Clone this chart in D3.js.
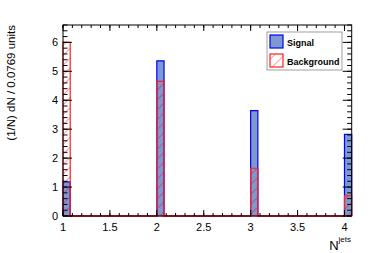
<!DOCTYPE html>
<html>
<head>
<meta charset="utf-8">
<script src="https://cdn.jsdelivr.net/npm/d3@7"></script>
<style>
  body { margin: 0; background: #fff; }
  text { font-family: "Liberation Sans", Arial, sans-serif; }
</style>
</head>
<body>
<svg width="374" height="253"></svg>
<script>
// jet multiplicity, values
let nJets = [1, 2, 3, 4]
let signal = [1.18, 5.36, 3.64, 2.82]
let background = [6.0, 4.65, 1.65, 0.70]
let binWidth = 1 / 13
let nBins = 40
let xTicks = [1, 1.5, 2, 2.5, 3, 3.5, 4]
let yTicks = [0, 1, 2, 3, 4, 5, 6]

let svg = d3.select('svg')
let margin = { top: 25, left: 63, right: 22.3, bottom: 37 }
let width = 374, height = 253
let innerWidth = width - margin.left - margin.right
let innerHeight = height - margin.top - margin.bottom

let xScale = d3.scaleLinear().domain([1, 1 + nBins * binWidth]).range([0, innerWidth])
let yScale = d3.scaleLinear().domain([0, 6.6]).range([innerHeight, 0])

// hatch pattern for background
let defs = svg.append('defs')
let pat = defs.append('pattern')
    .attr('id', 'hatch')
    .attr('patternUnits', 'userSpaceOnUse')
    .attr('width', 7).attr('height', 7)
    .attr('patternTransform', 'rotate(45)')
pat.append('line')
    .attr('x1', 0).attr('y1', 0).attr('x2', 0).attr('y2', 7)
    .style('stroke', '#ff0000').style('stroke-width', 0.8)

const g = svg.append('g').attr('transform', `translate(${margin.left},${margin.top})`)

// full histogram arrays
function fillHist(vals) {
    let h = new Array(nBins).fill(0)
    nJets.forEach((n, i) => {
        let b = Math.round((n - 1) / binWidth)
        h[b] = vals[i]
    })
    return h
}
let sigHist = fillHist(signal)
let bkgHist = fillHist(background)

function histPath(h) {
    let pts = [[xScale(1), yScale(0)]]
    h.forEach((v, i) => {
        let xl = xScale(1 + i * binWidth), xr = xScale(1 + (i + 1) * binWidth)
        pts.push([xl, yScale(v)])
        pts.push([xr, yScale(v)])
    })
    pts.push([xScale(1 + nBins * binWidth), yScale(0)])
    return d3.line()(pts)
}

// signal bars
g.selectAll('.sig')
    .data(nJets)
    .enter()
    .append('rect')
    .attr('x', d => xScale(d))
    .attr('y', (d, i) => yScale(signal[i]))
    .attr('width', xScale(1 + binWidth) - xScale(1))
    .attr('height', (d, i) => innerHeight - yScale(signal[i]))
    .style('fill', '#7d99d1')
g.append('path').attr('d', histPath(sigHist))
    .style('fill', 'none').style('stroke', '#0000ee').style('stroke-width', 1.2)

// background bars
g.selectAll('.bkg')
    .data(nJets)
    .enter()
    .append('rect')
    .attr('x', d => xScale(d))
    .attr('y', (d, i) => yScale(background[i]))
    .attr('width', xScale(1 + binWidth) - xScale(1))
    .attr('height', (d, i) => innerHeight - yScale(background[i]))
    .style('fill', 'url(#hatch)')
g.append('path').attr('d', histPath(bkgHist))
    .style('fill', 'none').style('stroke', '#ff2020').style('stroke-width', 1.2)

// frame
g.append('rect')
    .attr('width', innerWidth).attr('height', innerHeight)
    .style('fill', 'none').style('stroke', '#000').style('stroke-width', 1)
g.append('line')
    .attr('x1', 0).attr('x2', innerWidth).attr('y1', innerHeight).attr('y2', innerHeight)
    .style('stroke', '#8b0000').style('stroke-width', 1.2)

// ROOT style ticks, inside, on all sides
let yMinor = d3.range(0, 6.61, 0.2)
let xMinor = d3.range(1, 1 + nBins * binWidth, 0.1)
function tickLines(vals, len, axis) {
    vals.forEach(v => {
        if (axis == 'y') {
            let y = yScale(v)
            g.append('line').attr('x1', 0).attr('x2', len).attr('y1', y).attr('y2', y).style('stroke', '#000')
            g.append('line').attr('x1', innerWidth).attr('x2', innerWidth - len).attr('y1', y).attr('y2', y).style('stroke', '#000')
        } else {
            let x = xScale(v)
            g.append('line').attr('x1', x).attr('x2', x).attr('y1', innerHeight).attr('y2', innerHeight - len).style('stroke', '#000')
            g.append('line').attr('x1', x).attr('x2', x).attr('y1', 0).attr('y2', len).style('stroke', '#000')
        }
    })
}
tickLines(yMinor, 4.5, 'y')
tickLines(yTicks, 9, 'y')
tickLines(xMinor, 3, 'x')
tickLines(xTicks, 6, 'x')

// tick labels
g.selectAll('.ylab')
    .data(yTicks)
    .enter()
    .append('text')
    .attr('x', -5)
    .attr('y', d => yScale(d) + 4)
    .attr('text-anchor', 'end')
    .style('font-size', '11px')
    .text(d => d)
g.selectAll('.xlab')
    .data(xTicks)
    .enter()
    .append('text')
    .attr('x', d => xScale(d))
    .attr('y', innerHeight + 15)
    .attr('text-anchor', 'middle')
    .style('font-size', '11px')
    .text(d => d)

// axis titles
svg.append('text')
    .attr('transform', 'translate(15,25) rotate(-90)')
    .attr('text-anchor', 'end')
    .style('font-size', '11.5px')
    .text('(1/N) dN / 0.0769 units')
let xt = svg.append('text')
    .attr('x', 351)
    .attr('y', 250)
    .attr('text-anchor', 'end')
    .style('font-size', '13px')
xt.append('tspan').text('N')
xt.append('tspan').attr('dy', -8).style('font-size', '8px').text('jets')

// legend
let leg = svg.append('g').attr('transform', 'translate(267,32)')
leg.append('rect').attr('width', 75).attr('height', 38)
    .style('fill', '#fff').style('stroke', '#888').style('stroke-width', 0.8)
let keys = ['Signal', 'Background']
keys.forEach((k, i) => {
    leg.append('rect')
        .attr('x', 3).attr('y', 3 + i * 19).attr('width', 13).attr('height', 13)
        .style('fill', i == 0 ? '#7d99d1' : 'url(#hatch)')
        .style('stroke', i == 0 ? '#0000ee' : '#ff2020')
        .style('stroke-width', 1.2)
    leg.append('text')
        .attr('x', 20).attr('y', 14 + i * 19)
        .style('font-size', '9px')
        .style('font-weight', 'bold')
        .text(k)
})
</script>
</body>
</html>
